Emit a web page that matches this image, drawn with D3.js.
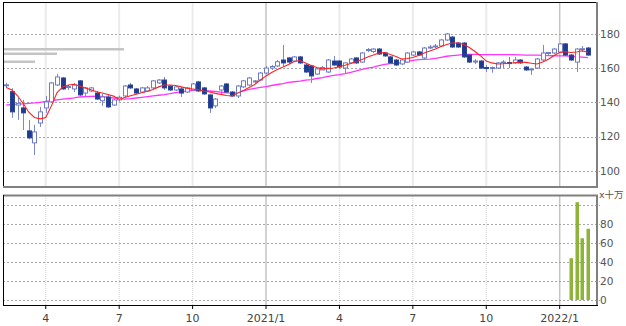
<!DOCTYPE html>
<html lang="ja">
<head>
<meta charset="UTF-8">
<script src="https://d3js.org/d3.v7.min.js"></script>
<style>
  body { margin: 0; background: #fff; }
  text { font-family: "DejaVu Sans", Verdana, sans-serif; }
</style>
</head>
<body>
<div id="container"></div>
<script>
// weekly candles, Fridays 2020-02-14 .. 2022-02-04
const open  = [149.8,146.3,138.5,136.8,123.4,116.4,128,136.8,140.3,150.2,154.3,148.8,147.9,152.6,145.5,146.7,145.5,141,143.2,138.5,
               141.5,143.8,150.2,147.9,146.1,146.7,148.5,151.4,153.1,149.6,147.3,147.9,146.1,147.3,152,148.5,144.4,138,147.3,150.8,
               146.1,143.8,149.1,150.2,152,153.1,157.2,160.1,161.3,164.8,166,164.2,166.6,161.9,161.3,156.6,159,157.8,164.2,164.2,
               160.1,163.1,166,163.6,170.4,169.8,171.2,168.9,166.6,164.8,162.5,163.6,167.7,169.5,166,171.8,172.4,173,176.5,178.2,
               174.7,174.7,167.7,163.6,164.2,160.4,159.8,160.1,163.1,163.3,163.1,164.8,160.7,159.3,160.1,164.8,168.6,168.9,169.5,174.2,
               167.7,163.6,171,171.8];
const high  = [151.5,148.3,142.6,141.5,129.8,126.9,137.4,143.8,152,156.6,154.9,150.2,151.4,153.1,149.1,149.1,146.7,145,144.4,142,
               144,150.2,151.4,148.5,149.1,149.6,153.1,153.7,154.9,150.2,149.6,149.1,149.1,151.4,152.6,149.1,145,142.6,150.2,151.4,
               146.7,150.2,153.1,154.9,153.1,157.8,161.3,161.9,164.8,173.6,166.6,167.2,167.2,162.5,161.9,160.1,161.3,165.4,167.2,164.8,
               163.6,166,166.6,169.5,171.8,171.8,171.8,169.5,167.2,165.4,165.4,169.5,170.1,170.1,172.4,173.6,174.2,177.1,180.6,178.8,
               175.3,175.3,168.3,165.4,164.8,161.9,161,163.6,164.8,166.6,166.6,165.4,161.3,160.1,166,173.6,169.5,171.8,174.7,174.7,
               168.3,171.8,173,172.4];
const low   = [148.5,131,129.8,123.9,118.5,109.3,125.7,133.9,139.7,149.6,147.3,147.3,146.1,143.8,143.2,146.1,141.5,138,136.8,138,
               140.5,143.2,147.9,144.9,145.5,146.1,147.9,150.8,147.3,146.7,146.7,143.2,145.5,146.7,146.1,144.4,133.9,136.8,144.4,145.5,
               143.2,142.6,148.5,149.6,151.4,152.6,156.6,159,160.7,161.3,162.5,163.6,162.5,157.2,151.4,156.1,159,157.2,161.3,160.1,
               157.2,162.5,162.5,163.1,169.5,168.9,167.7,166.6,162.5,161.3,161.9,163.1,167.2,167.2,165.4,171.2,171.8,172.4,175.9,171.8,
               171.8,166,163.1,162.5,159.6,157.8,157.4,159.6,160.1,160.1,162.5,162.5,158.4,156.1,159.6,164.2,167.7,168.3,168.9,167.2,
               164.2,157.8,169.5,167.2];
const close = [150.3,134.5,139.5,133.9,119.3,122.8,134.5,140.3,151.4,154.9,147.9,149.3,150.2,144.4,148.5,148.5,142,143.2,137.4,141.5,
               143,149.6,148.5,145.5,148.5,148.5,152.6,153.1,148.5,147.3,149.1,145.5,148.5,150.8,146.7,145,136.8,142,149.6,146.1,
               143.8,149.6,152.6,154.3,152.6,157.2,160.1,161,163.8,163.1,163.6,166.6,163.1,157.8,155.5,159.6,160.4,164.8,161.9,160.7,
               163.1,165.4,163.1,168.9,170.9,171.2,168.3,167.2,163.1,161.9,164.8,168.9,169.5,167.7,171.8,172.4,173,176.5,180,172.4,
               172.4,166.6,163.6,164.2,160.1,160.1,160.4,163.1,163.6,163.1,164.8,163.1,159,159.6,165.4,168.9,169.2,171.2,174.2,167.7,
               164.8,171.2,171.4,167.7];
// moving averages (short: red, long: magenta)
const maShort = [148.8,147.3,143.9,139.4,134.3,131.2,130.4,131.2,138,145.8,149.1,150.2,150.6,149.6,148.5,147.4,146.3,145.5,144.6,143.7,
                 141.9,142.9,143.9,144.8,145.7,146.5,147.6,149.1,150.2,150.2,149.9,149.1,148.3,147.9,147.4,146.7,146.1,145.3,144.7,144.1,
                 143.8,145.5,147,148.8,150.5,153.1,155.5,157.5,159.3,160.7,162.2,163.9,164.5,163.1,161.6,160.4,159.6,159.9,160.1,161,
                 161.7,162.8,163.9,165.1,166.6,167.7,168.9,169.2,168,166.9,165.4,165.7,166.3,167.4,168.9,170.1,171.2,172.7,173.9,174.7,
                 174.7,173.9,172.1,169.8,167.2,164.2,163.1,162.5,162.6,162.9,163.2,163.6,163.4,162.9,162.5,163.6,165.2,167.4,169.2,169.6,
                 169.2,169.5,170.2,169.2];
const maLong  = [138.5,138.8,139,139.2,139.5,139.7,140.1,140.6,141,141.5,141.9,142.3,142.7,143.2,143.4,143.6,143.7,143.5,143,142.6,
                 142.2,142,142.2,142.6,143,143.4,143.8,144.2,144.6,145.1,145.7,146.2,146.8,147.1,147.2,147,146.7,146.4,146,145.6,
                 145.4,145.8,146.7,147.6,148.2,148.8,149.3,149.9,150.5,151,151.7,152.1,152.5,153,153.4,154,154.5,155.2,155.8,156.3,
                 156.9,157.6,158.4,159.3,160,160.7,161.5,162.3,162.7,162.9,163.2,163.9,164.6,165,165.2,165.3,165.7,166.4,167,167.4,
                 167.7,168,168.1,168.1,168,168,168,168,168,167.9,167.9,167.8,167.7,167.7,167.6,167.5,167.4,167.3,167.2,167.2,
                 167,166.7,166.5,166.2];
// volume (x 100,000 shares)
const volDates = ["2022-01-14", "2022-01-21", "2022-01-28", "2022-02-04"];
const volume = [44, 103, 65, 75];

const priceTicks = [100, 120, 140, 160, 180];
const volTicks = [0, 20, 40, 60, 80];
const volGrid = [0, 20, 40, 60, 80, 100];
const monthTicks = ["2020-04-03", "2020-07-03", "2020-10-02", "2021-01-01", "2021-04-02", "2021-07-02", "2021-10-01", "2021-12-31"];
const monthLabels = ["4", "7", "10", "2021/1", "4", "7", "10", "2022/1"];

const parse = d3.timeParse("%Y-%m-%d");
const dates = d3.timeFriday.range(new Date(2020, 1, 14), new Date(2022, 1, 5));
const candles = dates.map((d, i) => ({ date: d, o: open[i], h: high[i], l: low[i], c: close[i] }));
const ticks = monthTicks.map((d, i) => ({ date: parse(d), label: monthLabels[i], jan: monthLabels[i].indexOf("/") > 0 }));
const vols = volDates.map((d, i) => ({ date: parse(d), v: volume[i] }));

const W = 626, H = 326;
const left = 3, right = 596;
const priceTop = 3, priceBottom = 186;
const volTop = 196, volBottom = 305;

const svg = d3.select("#container")
  .append("svg")
  .attr("width", W)
  .attr("height", H)
  .style("display", "block");

const x = d3.scaleTime()
  .domain([new Date(2020, 1, 10), new Date(2022, 1, 14)])
  .range([left, right]);

const y = d3.scaleLinear()
  .domain([91.2, 198.1])
  .range([priceBottom, priceTop]);

const yv = d3.scaleLinear()
  .domain([-5.3, 109.5])
  .range([volBottom, volTop]);

// vertical grid
svg.append("g").selectAll("line")
  .data(ticks)
  .join("line")
  .attr("x1", d => x(d.date)).attr("x2", d => x(d.date))
  .attr("y1", priceTop).attr("y2", priceBottom)
  .attr("stroke", d => d.jan ? "#c4c4c4" : "#ebebeb")
  .attr("stroke-width", d => d.jan ? 1.5 : 2);

svg.append("g").selectAll("line")
  .data(ticks)
  .join("line")
  .attr("x1", d => x(d.date)).attr("x2", d => x(d.date))
  .attr("y1", volTop).attr("y2", volBottom)
  .attr("stroke", d => d.jan ? "#c4c4c4" : "#cfcfcf")
  .attr("stroke-width", d => d.jan ? 1.5 : 1)
  .attr("stroke-dasharray", d => d.jan ? null : "1,1");

// horizontal grid
svg.append("g").selectAll("line")
  .data(priceTicks)
  .join("line")
  .attr("x1", left).attr("x2", right + 4)
  .attr("y1", d => Math.round(y(d)) + 0.5).attr("y2", d => Math.round(y(d)) + 0.5)
  .attr("stroke", "#a8a8a8")
  .attr("stroke-dasharray", "2,2");

svg.append("g").selectAll("line")
  .data(volGrid)
  .join("line")
  .attr("x1", left).attr("x2", right + 4)
  .attr("y1", d => Math.round(yv(d)) + 0.5).attr("y2", d => Math.round(yv(d)) + 0.5)
  .attr("stroke", "#a8a8a8")
  .attr("stroke-dasharray", "2,2");

// legend placeholder bars
svg.append("g").selectAll("rect")
  .data([[120, 48], [53, 52.5], [31, 60.5]])
  .join("rect")
  .attr("x", left + 1).attr("y", d => d[1])
  .attr("width", d => d[0]).attr("height", 2.5)
  .attr("fill", "#c4c4c4");

// moving averages
const line = arr => d3.line()
  .x((d, i) => x(dates[i]))
  .y(d => y(d))(arr);

svg.append("path")
  .attr("d", line(maLong))
  .attr("fill", "none")
  .attr("stroke", "#ff33ff")
  .attr("stroke-width", 1.3);

// candles
const cg = svg.append("g");
cg.selectAll("line")
  .data(candles)
  .join("line")
  .attr("x1", d => Math.round(x(d.date)) + 0.5).attr("x2", d => Math.round(x(d.date)) + 0.5)
  .attr("y1", d => y(d.h)).attr("y2", d => y(d.l))
  .attr("stroke", "#7c88c8")
  .attr("stroke-width", 1);

cg.selectAll("rect")
  .data(candles)
  .join("rect")
  .attr("x", d => Math.round(x(d.date)) - 1.5)
  .attr("y", d => y(Math.max(d.o, d.c)))
  .attr("width", 4)
  .attr("height", d => Math.max(1, Math.abs(y(d.o) - y(d.c))))
  .attr("fill", d => d.c < d.o ? "#1f3a8f" : "#fff")
  .attr("stroke", d => d.c < d.o ? "#2a4595" : "#6f7cc0")
  .attr("stroke-width", 1);

svg.append("path")
  .attr("d", line(maShort))
  .attr("fill", "none")
  .attr("stroke", "#ff2020")
  .attr("stroke-width", 1.1);

// volume bars
svg.append("g").selectAll("rect")
  .data(vols)
  .join("rect")
  .attr("x", d => Math.round(x(d.date)) - 1.5)
  .attr("y", d => yv(d.v))
  .attr("width", 3.5)
  .attr("height", d => yv(0) - yv(d.v))
  .attr("fill", "#8db33a");

// frames
const frame = svg.append("g").attr("fill", "none");
frame.append("line").attr("x1", left).attr("x2", right + 2).attr("y1", 2.5).attr("y2", 2.5).attr("stroke", "#000");
frame.append("line").attr("x1", 3.5).attr("x2", 3.5).attr("y1", 2).attr("y2", 187).attr("stroke", "#000");
frame.append("line").attr("x1", right + 1).attr("x2", right + 1).attr("y1", 2).attr("y2", 188).attr("stroke", "#808080").attr("stroke-width", 2);
frame.append("line").attr("x1", left).attr("x2", right + 2).attr("y1", 187).attr("y2", 187).attr("stroke", "#808080").attr("stroke-width", 2);

frame.append("line").attr("x1", left).attr("x2", right + 2).attr("y1", 195.5).attr("y2", 195.5).attr("stroke", "#808080").attr("stroke-width", 2);
frame.append("line").attr("x1", 3.5).attr("x2", 3.5).attr("y1", 195).attr("y2", 306).attr("stroke", "#000");
frame.append("line").attr("x1", right + 1).attr("x2", right + 1).attr("y1", 195).attr("y2", 306).attr("stroke", "#808080").attr("stroke-width", 2);
frame.append("line").attr("x1", left).attr("x2", right + 2).attr("y1", 305.5).attr("y2", 305.5).attr("stroke", "#000");

// x axis
svg.append("g").selectAll("line")
  .data(ticks)
  .join("line")
  .attr("x1", d => x(d.date)).attr("x2", d => x(d.date))
  .attr("y1", 306).attr("y2", 309)
  .attr("stroke", "#000");

svg.append("g").selectAll("text")
  .data(ticks)
  .join("text")
  .attr("x", d => x(d.date))
  .attr("y", 322)
  .attr("text-anchor", "middle")
  .style("font-size", "11px")
  .style("fill", "#444")
  .text(d => d.label);

// right axes
svg.append("g").selectAll("text")
  .data(priceTicks)
  .join("text")
  .attr("x", 600)
  .attr("y", d => y(d))
  .attr("dy", "0.36em")
  .style("font-size", "10.5px")
  .style("fill", "#555")
  .text(d => d);

svg.append("g").selectAll("text")
  .data(volTicks)
  .join("text")
  .attr("x", 600)
  .attr("y", d => yv(d))
  .attr("dy", "0.36em")
  .style("font-size", "10.5px")
  .style("fill", "#555")
  .text(d => d);

svg.append("text")
  .attr("x", 599)
  .attr("y", 198)
  .style("font-size", "9.5px")
  .style("font-family", "'DejaVu Sans', 'Noto Sans CJK JP', sans-serif")
  .style("fill", "#555")
  .text("x十万");
</script>
</body>
</html>
